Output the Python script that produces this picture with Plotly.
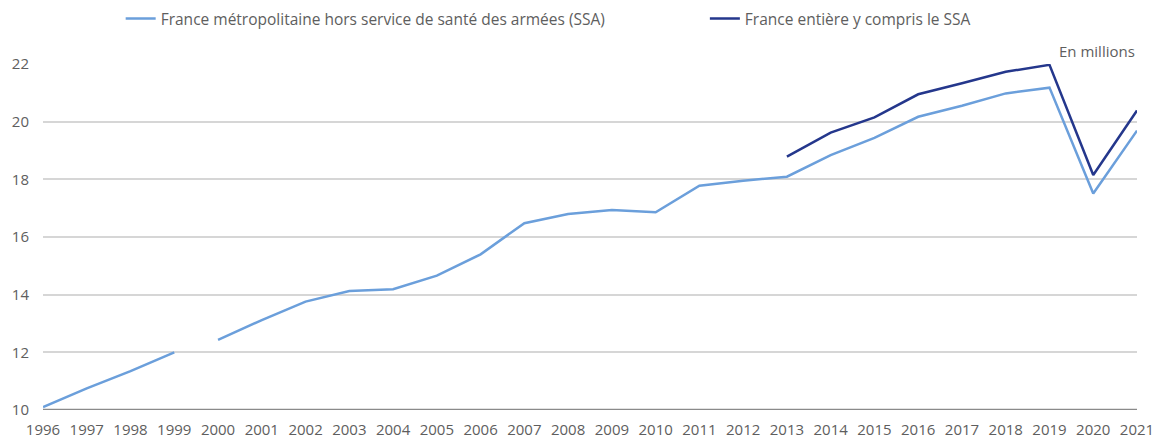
import plotly.graph_objects as go

years = list(range(1996, 2022))
metro_hors_ssa = [10.1, 10.75, 11.35, 12.0, 12.43, 13.12, 13.76, 14.13, 14.19, 14.66,
                  15.40, 16.48, 16.80, 16.94, 16.86, 17.78, 17.95, 18.09, 18.84, 19.44,
                  20.17, 20.55, 20.98, 21.18, 17.51, 19.69]
entiere_years = list(range(2013, 2022))
entiere_avec_ssa = [18.79, 19.62, 20.15, 20.95, 21.33, 21.73, 21.97, 18.15, 20.39]
break_after = 1999  # series interrupted between 1999 and 2000
y_ticks = [10, 12, 14, 16, 18, 20, 22]

name_metro = "France métropolitaine hors service de santé des armées (SSA)"
name_entiere = "France entière y compris le SSA"

light = "#6b9fdb"
dark = "#24378c"
font_family = "'Open Sans', Lato, sans-serif"
txt = "#5e5e5e"

fig = go.Figure()
seg1_x = [y for y in years if y <= break_after]
seg1_y = metro_hors_ssa[:len(seg1_x)]
seg2_x = [y for y in years if y > break_after]
seg2_y = metro_hors_ssa[len(seg1_x):]

fig.add_trace(go.Scatter(x=seg1_x, y=seg1_y, mode="lines", name=name_metro,
                         line=dict(color=light, width=2.5), legendgroup="m", legend="legend"))
fig.add_trace(go.Scatter(x=seg2_x, y=seg2_y, mode="lines", name=name_metro,
                         line=dict(color=light, width=2.5), legendgroup="m", showlegend=False,
                         legend="legend"))
fig.add_trace(go.Scatter(x=entiere_years, y=entiere_avec_ssa, mode="lines", name=name_entiere,
                         line=dict(color=dark, width=2.5), legend="legend2"))

legend_common = dict(orientation="h", xanchor="left", y=0.957, yanchor="middle",
                     yref="container", font=dict(size=15.5, color=txt),
                     bgcolor="rgba(0,0,0,0)", itemwidth=30)

fig.update_layout(
    width=1158, height=441,
    margin=dict(l=43, r=21, t=64, b=31, autoexpand=False),
    paper_bgcolor="white", plot_bgcolor="white",
    font=dict(family=font_family, color=txt, size=14),
    showlegend=True,
    legend=dict(x=0.071, **legend_common),
    legend2=dict(x=0.605, **legend_common),
    xaxis=dict(range=[1996, 2021], tickmode="array", tickvals=years,
               ticktext=[str(y) for y in years], showgrid=False, zeroline=False,
               showline=False, ticks="", tickfont=dict(size=15, color=txt),
               tickangle=0, ticklabelstandoff=9, automargin=False),
    yaxis=dict(range=[10, 22], tickmode="array", tickvals=y_ticks,
               ticktext=[str(v) for v in y_ticks], showgrid=True, gridcolor="#d6d6d6",
               gridwidth=1.5, zeroline=False, showline=False, ticks="",
               ticklabelstandoff=13, tickfont=dict(size=15, color=txt),
               automargin=False),
    annotations=[dict(text="En millions", xref="paper", yref="paper", x=1.0, y=1.0,
                      xanchor="right", yanchor="bottom", yshift=1, showarrow=False,
                      font=dict(size=15, color=txt))],
    shapes=[dict(type="line", xref="paper", yref="y", x0=0, x1=1, y0=10, y1=10,
                 line=dict(color="#8a8a8a", width=2.5), layer="below")],
)

fig.write_html("out.html")
